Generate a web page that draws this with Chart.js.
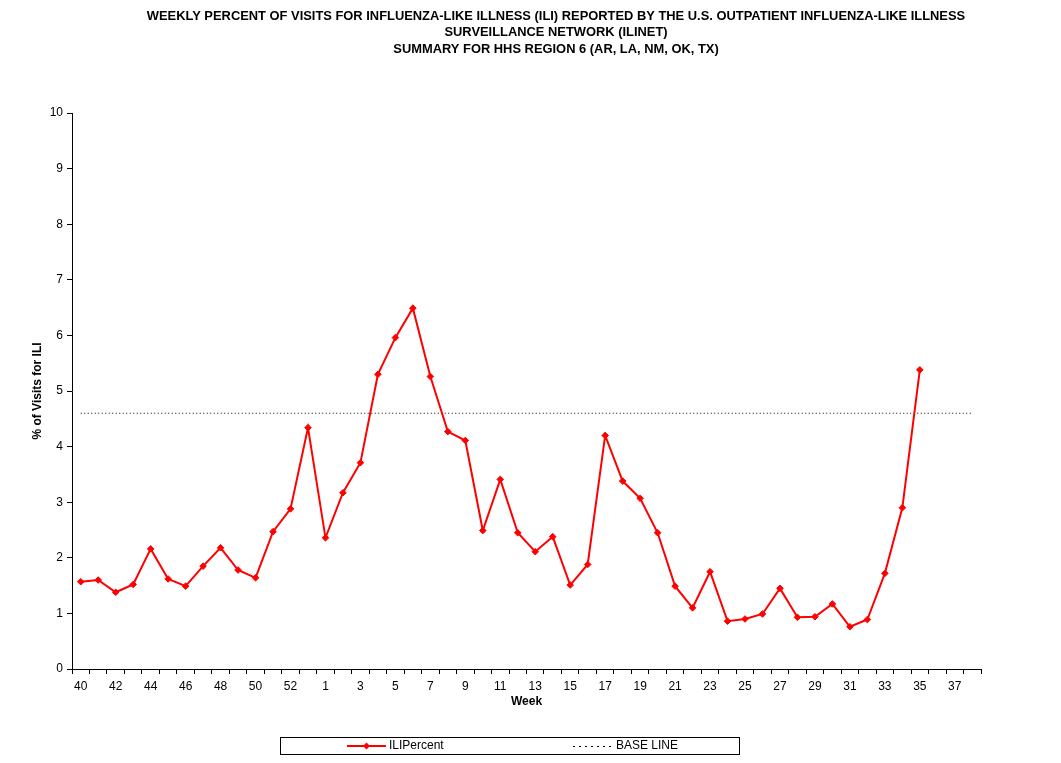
<!DOCTYPE html>
<html>
<head>
<meta charset="utf-8">
<title>ILINet HHS Region 6</title>
<script src="https://cdn.jsdelivr.net/npm/chart.js@4.4.1/dist/chart.umd.min.js"></script>
<style>
  html, body { margin: 0; padding: 0; background: #fff; }
  #chart { display: block; }
</style>
</head>
<body>
<canvas id="chart" width="1061" height="763"></canvas>
<script>
// weeks 40-53 then 1-38
var weeks = [40, 41, 42, 43, 44, 45, 46, 47, 48, 49, 50, 51, 52, 53,
    1, 2, 3, 4, 5, 6, 7, 8, 9, 10, 11, 12, 13, 14, 15, 16, 17, 18, 19, 20,
    21, 22, 23, 24, 25, 26, 27, 28, 29, 30, 31, 32, 33, 34, 35, 36, 37, 38];

var iliPercent = [1.57, 1.60, 1.38, 1.52, 2.16, 1.62, 1.49, 1.85, 2.18, 1.78, 1.64, 2.47, 2.88, 4.34,
    2.36, 3.17, 3.71, 5.30, 5.96, 6.49, 5.26, 4.27, 4.11, 2.49, 3.41, 2.45, 2.11, 2.38, 1.51, 1.88,
    4.20, 3.38, 3.07, 2.45, 1.49, 1.10, 1.75, 0.86, 0.90, 0.99, 1.45, 0.93, 0.94, 1.17, 0.76, 0.89,
    1.72, 2.90, 5.38, null, null, null];

var baseLineValue = 4.6;
var baseLine = weeks.map(function() { return baseLineValue; });

var titleLines = [
    'WEEKLY PERCENT OF VISITS FOR INFLUENZA-LIKE ILLNESS (ILI) REPORTED BY THE U.S. OUTPATIENT INFLUENZA-LIKE ILLNESS',
    'SURVEILLANCE NETWORK (ILINET)',
    'SUMMARY FOR HHS REGION 6 (AR, LA, NM, OK, TX)'
];

var yTicks = [0, 1, 2, 3, 4, 5, 6, 7, 8, 9, 10];

Chart.defaults.font.family = '"Liberation Sans", Arial, sans-serif';
Chart.defaults.font.size = 12;
Chart.defaults.color = '#000';

// title drawn over the plot the way the spreadsheet did it
var titlePlugin = {
    id: 'sheetTitle',
    afterDraw: function(chart) {
        var ctx = chart.ctx;
        ctx.save();
        ctx.font = 'bold 12.9px "Liberation Sans", Arial, sans-serif';
        ctx.fillStyle = '#000';
        ctx.textAlign = 'center';
        ctx.textBaseline = 'middle';
        var ys = [16, 32.5, 49];
        for (var i = 0; i < titleLines.length; i++) {
            ctx.fillText(titleLines[i], 556, ys[i]);
        }
        ctx.restore();
    }
};

// boxed legend at the bottom
var legendPlugin = {
    id: 'boxLegend',
    afterDraw: function(chart) {
        var ctx = chart.ctx;
        var ds = chart.data.datasets;
        ctx.save();
        ctx.strokeStyle = '#000';
        ctx.lineWidth = 1;
        ctx.strokeRect(280.5, 737.5, 459, 17);

        var cy = 746;
        // ILIPercent
        ctx.strokeStyle = ds[0].borderColor;
        ctx.lineWidth = 2;
        ctx.beginPath();
        ctx.moveTo(347, cy);
        ctx.lineTo(386, cy);
        ctx.stroke();
        ctx.fillStyle = ds[0].pointBackgroundColor;
        ctx.beginPath();
        ctx.moveTo(366.5, cy - 3.5);
        ctx.lineTo(370, cy);
        ctx.lineTo(366.5, cy + 3.5);
        ctx.lineTo(363, cy);
        ctx.closePath();
        ctx.fill();

        // BASE LINE
        ctx.strokeStyle = ds[1].borderColor;
        ctx.lineWidth = 1;
        ctx.setLineDash([2, 4]);
        ctx.beginPath();
        ctx.moveTo(573, cy + 0.5);
        ctx.lineTo(611, cy + 0.5);
        ctx.stroke();
        ctx.setLineDash([]);

        ctx.fillStyle = '#000';
        ctx.font = '12px "Liberation Sans", Arial, sans-serif';
        ctx.textAlign = 'left';
        ctx.textBaseline = 'middle';
        ctx.fillText(ds[0].label, 389, cy);
        ctx.fillText(ds[1].label, 616, cy);
        ctx.restore();
    }
};

var ctx = document.getElementById('chart').getContext('2d');
var chart = new Chart(ctx, {
    type: 'line',
    data: {
        labels: weeks,
        datasets: [{
            label: 'ILIPercent',
            data: iliPercent,
            borderColor: '#ff0000',
            backgroundColor: '#ff0000',
            pointBackgroundColor: '#ff0000',
            pointBorderColor: '#ff0000',
            pointStyle: 'rectRot',
            pointRadius: 3.3,
            pointBorderWidth: 1,
            borderWidth: 2,
            tension: 0,
            spanGaps: false
        }, {
            label: 'BASE LINE',
            data: baseLine,
            borderColor: '#000',
            borderWidth: 1,
            borderDash: [1, 2.5],
            pointRadius: 0,
            tension: 0
        }]
    },
    options: {
        responsive: false,
        animation: false,
        devicePixelRatio: 1,
        layout: {
            padding: { left: 30, top: 113, right: 80, bottom: 54 }
        },
        plugins: {
            legend: { display: false },
            title: { display: false },
            tooltip: { enabled: false }
        },
        scales: {
            x: {
                type: 'category',
                offset: true,
                grid: {
                    offset: true,
                    drawOnChartArea: false,
                    drawTicks: true,
                    tickLength: 5,
                    color: '#000'
                },
                border: { color: '#000', width: 1 },
                ticks: {
                    autoSkip: false,
                    maxRotation: 0,
                    padding: 5,
                    callback: function(value, index) {
                        return index % 2 === 0 ? weeks[index] : '';
                    }
                },
                title: {
                    display: true,
                    text: 'Week',
                    font: { weight: 'bold', size: 12 },
                    padding: 0
                },
                afterFit: function(scale) { scale.height = 40; }
            },
            y: {
                min: yTicks[0],
                max: yTicks[yTicks.length - 1],
                afterBuildTicks: function(scale) {
                    scale.ticks = yTicks.map(function(v) { return { value: v }; });
                },
                grid: {
                    drawOnChartArea: false,
                    drawTicks: true,
                    tickLength: 5,
                    color: '#000'
                },
                border: { color: '#000', width: 1 },
                ticks: { padding: 4 },
                title: {
                    display: true,
                    text: '% of Visits for ILI',
                    font: { weight: 'bold', size: 12 },
                    padding: 0
                },
                afterFit: function(scale) { scale.width = 42; }
            }
        }
    },
    plugins: [titlePlugin, legendPlugin]
});
</script>
</body>
</html>
